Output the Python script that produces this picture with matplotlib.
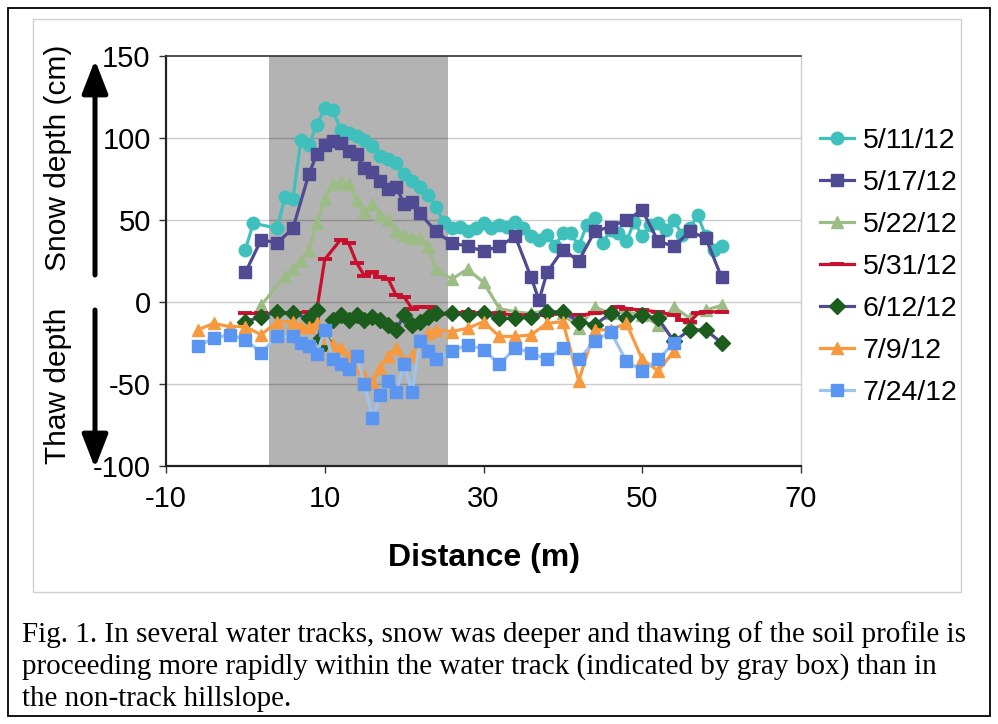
import matplotlib
matplotlib.use("Agg")
import matplotlib.pyplot as plt
from matplotlib.patches import Rectangle, FancyArrowPatch

plt.rcParams["axes.unicode_minus"] = False

# ---------------- data ----------------
x_511 = [0, 1, 4, 5, 6, 7, 8, 9, 10, 11, 12, 13, 14, 15, 16, 17, 18, 19, 20, 21, 22, 23, 24, 25, 26, 27, 28, 29, 30,
         31, 32, 33, 34, 35, 36, 37, 38, 39, 40, 41, 42, 43, 44, 45, 46, 47, 48, 49, 50, 51, 52, 53, 54, 55, 56, 57,
         58, 59, 60]
y_511 = [32, 48, 45, 64, 63, 99, 96, 108, 118, 117, 105, 103, 101, 99, 95, 89, 87, 85, 78, 74, 70, 65, 58, 49, 45,
         46, 43, 45, 48, 45, 47, 46, 49, 45, 40, 38, 41, 34, 42, 42, 34, 47, 51, 36, 44, 42, 37, 49, 40, 47, 48, 44,
         50, 41, 45, 53, 40, 32, 34]

x_517 = [0, 2, 4, 6, 8, 9, 10, 11, 12, 13, 14, 15, 16, 17, 18, 19, 20, 21, 22, 24, 26, 28, 30, 32, 34, 36, 37, 38,
         40, 42, 44, 46, 48, 50, 52, 54, 56, 58, 60]
y_517 = [18, 38, 36, 45, 78, 90, 96, 98, 97, 92, 90, 82, 79, 74, 69, 70, 60, 61, 54, 43, 36, 34, 31, 34, 40, 15, 1,
         18, 32, 25, 43, 46, 50, 56, 37, 34, 43, 39, 15]

x_522 = [2, 5, 6, 7, 8, 9, 10, 11, 12, 13, 14, 15, 16, 17, 18, 19, 20, 21, 22, 23, 24, 26, 28, 30, 32, 34, 36, 38,
         40, 42, 44, 46, 48, 50, 52, 54, 56, 58, 60]
y_522 = [-2, 16, 20, 25, 32, 48, 63, 72, 73, 72, 62, 55, 60, 53, 50, 43, 41, 39, 39, 34, 20, 14, 20, 12, -4, -6, -7,
         -5, -7, -16, -3, -7, -6, -8, -14, -3, -10, -5, -2]

x_531 = [0, 2, 4, 6, 8, 9, 10, 12, 13, 14, 15, 16, 17, 18, 19, 20, 21, 22, 23, 24, 26, 28, 30, 32, 34, 36, 38, 40,
         42, 44, 46, 47, 48, 50, 52, 54, 55, 56, 57, 58, 60]
y_531 = [-7, -7, -7, -7, -6, -5, 26, 38, 36, 24, 16, 18, 15, 14, 4, 3, -4, -3, -3, -8, -7, -6, -7, -7, -8, -8, -8,
         -7, -8, -7, -6, -3, -4, -5, -6, -8, -11, -12, -7, -6, -6]

x_612 = [0, 2, 4, 6, 8, 9, 9.5, 10, 11, 12, 13, 14, 15, 16, 17, 18, 19, 20, 21, 22, 23, 24, 26, 28, 30, 32, 34, 36,
         38, 40, 42, 44, 46, 48, 50, 52, 54, 56, 58, 60]
y_612 = [-12, -9, -6, -7, -10, -5, -22, -25, -11, -8, -11, -8, -11, -9, -11, -14, -17, -8, -14, -12, -9, -7, -7, -8,
         -7, -10, -10, -9, -6, -6, -12, -14, -7, -10, -8, -10, -24, -17, -17, -25]

x_79 = [-6, -4, -2, 0, 2, 4, 6, 7, 8, 9, 10, 11, 12, 13, 14, 15, 16, 17, 18, 19, 20, 21, 22, 23, 24, 26, 28, 30, 32,
        34, 36, 38, 40, 42, 44, 46, 48, 50, 52, 54]
y_79 = [-17, -13, -15, -15, -20, -12, -12, -15, -15, -13, -22, -26, -28, -33, -40, -45, -49, -40, -33, -28, -36, -33,
        -25, -19, -17, -18, -16, -12, -21, -21, -20, -13, -12, -48, -17, -17, -13, -35, -42, -30]

x_724 = [-6, -4, -2, 0, 2, 4, 6, 7, 8, 9, 10, 11, 12, 13, 14, 15, 16, 17, 18, 19, 20, 21, 22, 23, 24, 26, 28, 30,
         32, 34, 36, 38, 40, 42, 44, 46, 48, 50, 52, 54]
y_724 = [-27, -22, -20, -23, -31, -21, -21, -25, -27, -32, -17, -35, -38, -41, -33, -50, -71, -57, -48, -55, -38, -55,
         -24, -30, -35, -30, -26, -29, -38, -28, -31, -35, -28, -35, -24, -18, -36, -42, -35, -25]

labels = ["5/11/12", "5/17/12", "5/22/12", "5/31/12", "6/12/12", "7/9/12", "7/24/12"]
track_start, track_end = 3, 25.5
x_ticks = [-10, 10, 30, 50, 70]
y_ticks = [-100, -50, 0, 50, 100, 150]
caption = ["Fig. 1. In several water tracks, snow was deeper and thawing of the soil profile is",
           "proceeding more rapidly within the water track (indicated by gray box) than in",
           "the non-track hillslope."]

# ---------------- figure ----------------
W, H = 998, 724
fig = plt.figure(figsize=(W / 100, H / 100), dpi=100)
fig.patch.set_facecolor("white")

# outer frame and inner chart-area border
fig.patches.append(Rectangle((8 / W, 8 / H), 982 / W, 708 / H, transform=fig.transFigure,
                             fill=False, edgecolor="black", linewidth=1.3))
fig.patches.append(Rectangle((33 / W, 1 - 592 / H), 928 / W, 573 / H, transform=fig.transFigure,
                             fill=False, edgecolor="#cfcfcf", linewidth=1.0))

ax = fig.add_axes([166 / W, 1 - 466 / H, 635 / W, 410 / H])
ax.set_xlim(-10, 70)
ax.set_ylim(-100, 150)

ax.axvspan(track_start, track_end, color="#b3b3b3", zorder=0, lw=0)
for yv in y_ticks[1:-1]:
    ax.axhline(yv, color="black", alpha=0.2, lw=1.0, zorder=1)

sans = "Liberation Sans"
series = [
    (x_511, y_511, dict(color="#3fc0bd", marker="o", ms=9, mfc="#3fc0bd", mec="#3fc0bd")),
    (x_517, y_517, dict(color="#4f4a91", marker="s", ms=8, mfc="#4f4a91", mec="#4f4a91")),
    (x_522, y_522, dict(color="#9cbc86", marker="^", ms=9, mfc="#9cbc86", mec="#9cbc86")),
    (x_531, y_531, dict(color="#c8102e", marker="_", ms=10, mew=2.8, mfc="#c8102e", mec="#c8102e")),
    (x_612, y_612, dict(color="#4f4a91", marker="D", ms=8, mfc="#1c5c1c", mec="#1c5c1c")),
    (x_79, y_79, dict(color="#f6993f", marker="^", ms=9, mfc="#f6993f", mec="#f6993f")),
    (x_724, y_724, dict(color="#9dc3ee", marker="s", ms=8, mfc="#5a95f2", mec="#5a95f2")),
]
for (xs, ys, st), lab in zip(series, labels):
    ax.plot(xs, ys, lw=2.3, label=lab, zorder=3, **st)

ax.set_xticks(x_ticks)
ax.set_yticks(y_ticks)
ax.tick_params(axis="both", labelsize=21, length=5, width=1, direction="out", colors="#333333",
               labelcolor="black")
for lab in ax.get_xticklabels() + ax.get_yticklabels():
    lab.set_fontfamily(sans)
ax.tick_params(axis="x", pad=9)
ax.tick_params(axis="y", pad=6)

ax.spines["left"].set_color("#222222")
ax.spines["bottom"].set_color("#222222")
ax.spines["left"].set_linewidth(1.6)
ax.spines["bottom"].set_linewidth(1.6)
ax.spines["top"].set_color("#333333")
ax.spines["top"].set_linewidth(1.2)
ax.spines["right"].set_color("#d0d0d0")
ax.spines["right"].set_linewidth(1.0)

ax.set_xlabel("Distance (m)", fontsize=23, fontweight="bold", family=sans, labelpad=21)

leg = ax.legend(loc="upper left", bbox_to_anchor=((820 - 166) / 635, (466 - 128) / 410), frameon=False,
                handlelength=1.2, labelspacing=0.56, handletextpad=0.3, borderaxespad=0.0,
                borderpad=0.0, prop=dict(family=sans, size=20.5))

# y-axis labels and arrows
fig.text(58 / W, 1 - 158 / H, "Snow depth (cm)", rotation=90, ha="center", va="center",
         fontsize=21.5, family=sans)
fig.text(58 / W, 1 - 386 / H, "Thaw depth", rotation=90, ha="center", va="center",
         fontsize=21.5, family=sans)
for y0, y1 in [(275, 60), (310, 468)]:
    arr = FancyArrowPatch((0.95, (H - y0) / 100), (0.95, (H - y1) / 100),
                          arrowstyle="-|>,head_length=0.72,head_width=0.28", mutation_scale=28,
                          lw=3.6, color="black", transform=fig.dpi_scale_trans, shrinkA=0, shrinkB=0)
    fig.patches.append(arr)

# caption
for i, line in enumerate(caption):
    fig.text(22 / W, 1 - (635 + 32 * i) / H, line, ha="left", va="center",
             fontsize=21, family="Liberation Serif")

fig.savefig("out.png", dpi=100)
